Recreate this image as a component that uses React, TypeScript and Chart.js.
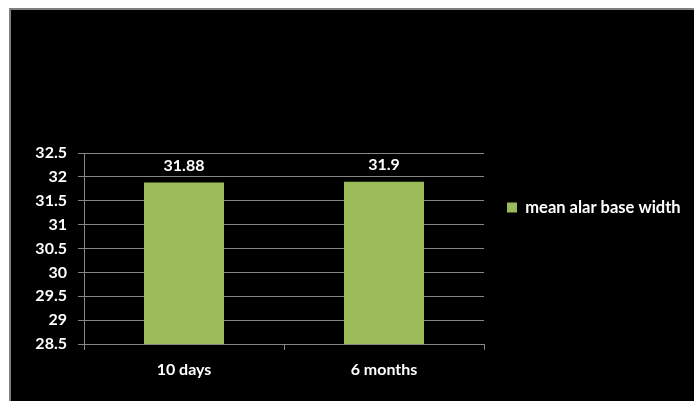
import React, { useEffect, useRef } from "react";
import { Chart, registerables } from "chart.js";

Chart.register(...registerables);

const categories = ["10 days", "6 months"];
const seriesName = "mean alar base width";
const seriesValues = [31.88, 31.9];
const yTickValues = [28.5, 29, 29.5, 30, 30.5, 31, 31.5, 32, 32.5];
const yTickLabels = ["28.5", "29", "29.5", "30", "30.5", "31", "31.5", "32", "32.5"];

const FONT_FAMILY = "Lato, 'DejaVu Sans', sans-serif";
const GRID = "#858585";
const BAR = "#9BBB59";
const LEGEND_FONT = 16.5;

const valueLabels = {
  id: "valueLabels",
  afterDatasetsDraw(chart: any) {
    const ctx = chart.ctx;
    const meta = chart.getDatasetMeta(0);
    ctx.save();
    ctx.fillStyle = "#ffffff";
    ctx.font = `bold 16px ${FONT_FAMILY}`;
    ctx.textAlign = "center";
    ctx.textBaseline = "middle";
    meta.data.forEach((bar: any, i: number) => {
      ctx.fillText(String(seriesValues[i]), bar.x, bar.y - 17);
    });
    ctx.restore();
  },
};

export default function App() {
  const ref = useRef<HTMLCanvasElement | null>(null);

  useEffect(() => {
    const canvas = ref.current;
    if (!canvas) return;
    const W = canvas.parentElement ? canvas.parentElement.clientWidth : 683;
    const mctx = canvas.getContext("2d")!;
    mctx.save();
    mctx.font = `bold ${LEGEND_FONT}px ${FONT_FAMILY}`;
    const textW = mctx.measureText(seriesName).width;
    mctx.restore();
    const legendPad = 23;
    const plotRight = 473;
    // Chart.js legend width = padding + boxWidth + fontSize/2 + text + 10
    const legendW = legendPad + 10 + LEGEND_FONT / 2 + textW + 10;
    const rightPad = Math.max(0, W - plotRight - legendW);

    const chart = new Chart(canvas, {
      type: "bar",
      data: {
        labels: categories,
        datasets: [
          {
            label: seriesName,
            data: seriesValues,
            backgroundColor: BAR,
            borderWidth: 0,
            barPercentage: 1,
            categoryPercentage: 0.4,
          },
        ],
      },
      plugins: [valueLabels],
      options: {
        animation: false,
        responsive: true,
        maintainAspectRatio: false,
        layout: { padding: { top: 4, right: rightPad, bottom: 0, left: 0 } },
        plugins: {
          title: {
            display: true,
            text: " ",
            padding: 0,
            font: { size: 10, lineHeight: "139px" },
          },
          tooltip: { enabled: false },
          legend: {
            display: true,
            position: "right",
            align: "center",
            maxWidth: 400,
            labels: {
              boxWidth: 10,
              boxHeight: 10,
              padding: legendPad,
              color: "#ffffff",
              font: { family: FONT_FAMILY, size: LEGEND_FONT, weight: "bold" },
            },
          },
        },
        scales: {
          x: {
            offset: true,
            grid: {
              display: true,
              offset: true,
              drawOnChartArea: false,
              drawTicks: true,
              tickLength: 6,
              color: GRID,
            },
            border: { display: true, color: GRID, width: 1 },
            ticks: {
              color: "#ffffff",
              padding: 10,
              font: { family: FONT_FAMILY, size: 16, weight: "bold" },
            },
            afterFit(axis: any) {
              axis.height = 57;
            },
          },
          y: {
            min: 28.5,
            max: 32.5,
            grid: { color: GRID, drawTicks: true, tickLength: 6 },
            border: { display: true, color: GRID, width: 1 },
            ticks: {
              color: "#ffffff",
              padding: 11,
              font: { family: FONT_FAMILY, size: 16, weight: "bold" },
              callback: (value: any) => {
                const i = yTickValues.indexOf(Number(value));
                return i >= 0 ? yTickLabels[i] : "";
              },
            },
            afterBuildTicks(axis: any) {
              axis.ticks = yTickValues.map((v) => ({ value: v }));
            },
            afterFit(axis: any) {
              axis.width = 73;
            },
          },
        },
      },
    });
    return () => chart.destroy();
  }, []);

  return (
    <div
      style={{
        position: "fixed",
        left: 9,
        top: 8,
        width: 685,
        height: 393,
        boxSizing: "border-box",
        borderTop: "2px solid #7f7f7f",
        borderLeft: "2px solid #7f7f7f",
        background: "#000000",
      }}
    >
      <div style={{ position: "relative", width: "100%", height: "100%" }}>
        <canvas ref={ref} />
      </div>
    </div>
  );
}
